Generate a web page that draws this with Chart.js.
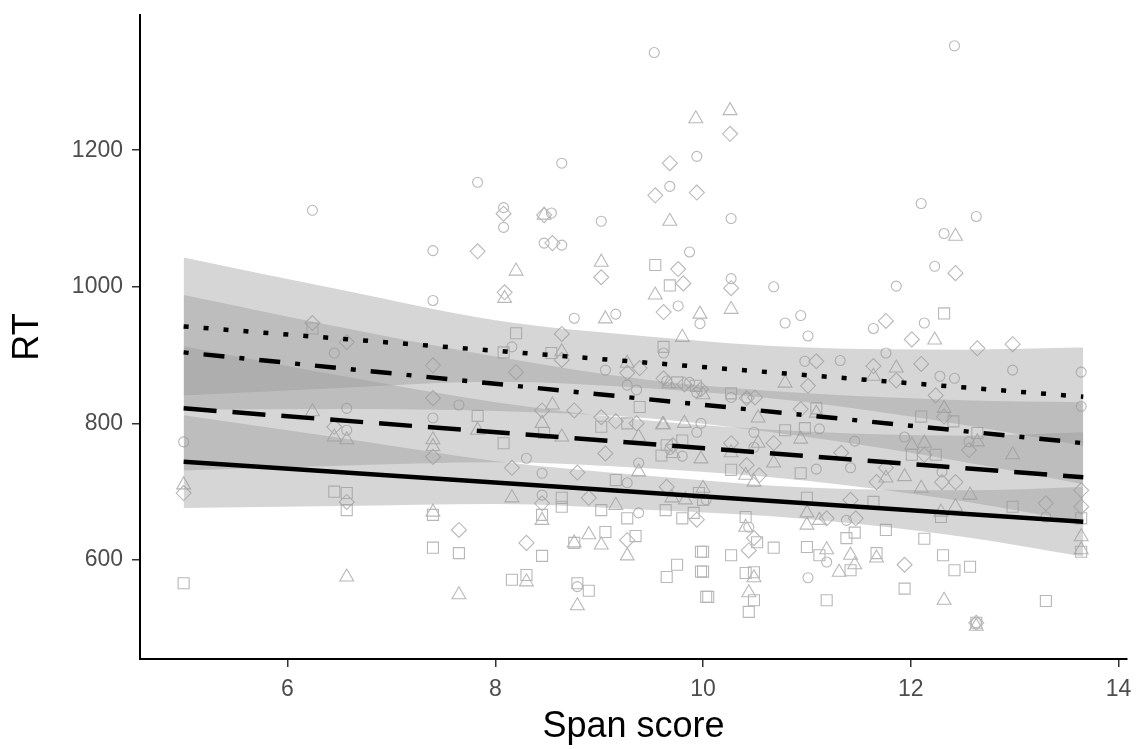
<!DOCTYPE html>
<html>
<head>
<meta charset="utf-8">
<script src="https://cdn.jsdelivr.net/npm/chart.js@4"></script>
<style>
  html, body { margin: 0; padding: 0; background: #fff; }
  #wrap { width: 1136px; height: 749px; }
</style>
</head>
<body>
<div id="wrap"><canvas id="chart" width="1136" height="749"></canvas></div>
<script>
// Axis ticks
const xTicks = [6, 8, 10, 12, 14];
const yTicks = [600, 800, 1000, 1200];

// Regression lines (start / end of span range)
const lineX = [5, 13.66];
const solidLine = [744, 656];
const dashedLine = [822, 721];
const dotdashLine = [904, 771];
const dottedLine = [942, 839];

// Confidence bands, read at these span scores
const bandX = [5, 6.5, 8, 9.5, 11, 12.5, 13.66];
const solidLow = [676, 679, 682, 673, 660, 634, 605];
const solidHigh = [812, 779, 745, 723, 706, 702, 707];
const dashedLow = [731, 738, 743, 734, 716, 686, 655];
const dashedHigh = [913, 870, 831, 804, 788, 782, 787];
const dotdashLow = [820, 821, 818, 807, 780, 744, 711];
const dotdashHigh = [988, 941, 898, 863, 844, 834, 831];
const dottedLow = [841, 852, 861, 851, 831, 798, 767];
const dottedHigh = [1043, 996, 951, 927, 911, 908, 911];

// Raw points [span score, RT]
const circles = [[5.0,773],[6.24,1112],[6.45,903],[6.57,822],[6.57,790],[7.4,1053],[7.4,980],[7.4,808],[7.65,827],[7.83,1153],[8.64,1181],[8.08,1116],[8.08,1087],[8.54,1108],[9.02,1096],[8.47,1064],[8.64,1061],[8.76,954],[9.16,960],[8.16,912],[9.06,878],[9.27,856],[9.36,849],[8.3,749],[8.45,727],[9.38,742],[9.27,713],[8.45,695],[9.38,669],[8.79,561],[9.87,1051],[9.68,1147],[9.94,1191],[9.76,972],[9.97,946],[9.62,903],[9.65,862],[9.87,860],[9.94,845],[9.98,800],[9.94,787],[9.68,762],[9.8,752],[10.03,688],[9.53,1343],[10.27,1100],[10.27,1012],[10.68,1000],[11.86,1001],[10.94,958],[10.79,947],[11.01,928],[11.64,939],[11.76,903],[10.98,891],[11.32,892],[10.27,838],[10.42,837],[11.12,792],[10.49,787],[11.46,774],[10.49,765],[11.42,735],[11.09,733],[11.38,658],[10.44,648],[11.19,597],[11.01,574],[12.1,1122],[12.63,1103],[12.32,1078],[12.23,1030],[12.13,947],[13.64,875],[13.64,825],[12.98,878],[12.28,869],[12.42,866],[12.56,773],[11.94,780],[12.3,729],[13.3,663],[12.63,508],[12.42,1353]];
const triangles = [[5.0,710],[6.24,817],[6.45,780],[6.57,776],[6.57,575],[7.4,776],[7.4,766],[7.4,670],[7.65,549],[7.83,790],[8.47,1105],[8.2,1023],[9.02,1036],[8.09,983],[9.06,953],[8.64,905],[9.27,888],[8.55,827],[8.45,800],[8.64,780],[9.38,780],[9.61,798],[9.82,800],[9.38,729],[8.16,691],[8.45,658],[9.16,680],[8.76,625],[8.9,637],[9.02,622],[9.27,606],[8.3,568],[8.79,533],[9.68,1096],[9.54,988],[9.97,960],[9.8,926],[9.67,858],[10.0,842],[9.62,798],[9.71,756],[9.98,748],[9.7,691],[9.83,688],[10.26,1258],[9.93,1246],[10.27,967],[11.64,869],[10.79,859],[11.86,881],[11.09,815],[10.53,808],[10.94,777],[10.53,771],[10.27,757],[10.68,742],[10.41,724],[10.49,714],[11.76,720],[10.0,705],[11.0,669],[11.12,658],[11.0,651],[10.41,648],[11.19,615],[11.42,607],[11.46,593],[11.31,582],[11.67,603],[10.49,574],[10.44,552],[12.43,1074],[12.23,922],[12.32,822],[12.64,773],[12.01,768],[12.13,771],[12.98,754],[11.94,722],[12.1,705],[12.57,695],[12.29,670],[12.43,678],[13.64,634],[13.64,615],[12.32,541],[12.63,503]];
const diamonds = [[5.0,698],[6.24,947],[6.45,795],[6.57,919],[6.57,685],[7.4,885],[7.4,837],[7.4,751],[7.65,644],[8.08,1107],[8.47,1105],[8.55,1064],[7.83,1052],[9.02,1014],[8.09,992],[8.64,931],[8.64,893],[8.2,875],[9.27,874],[9.39,881],[8.45,819],[8.76,819],[9.02,809],[9.16,803],[9.36,800],[9.06,756],[8.16,735],[8.79,728],[8.45,683],[8.9,691],[8.3,625],[9.27,629],[9.54,1134],[9.68,1181],[9.94,1138],[9.76,1026],[9.81,1005],[9.62,963],[9.62,866],[9.82,857],[9.98,850],[9.71,768],[9.65,707],[9.94,659],[10.26,1224],[10.27,998],[11.76,950],[11.09,891],[11.64,884],[11.01,855],[11.86,863],[10.42,837],[10.5,838],[10.94,821],[10.27,771],[10.68,771],[11.33,757],[10.42,739],[10.54,724],[11.67,714],[11.76,735],[11.42,688],[11.47,661],[11.19,661],[10.49,632],[10.44,614],[12.43,1020],[12.01,923],[12.64,910],[12.98,916],[12.1,887],[12.24,841],[12.32,810],[12.56,761],[12.13,754],[12.3,714],[12.43,714],[13.3,683],[13.64,702],[13.64,678],[11.94,593],[12.63,508]];
const squares = [[5.0,566],[6.24,939],[6.45,700],[6.57,698],[6.57,673],[7.4,666],[7.4,618],[7.65,610],[8.2,932],[8.08,904],[8.54,903],[9.39,824],[7.83,811],[8.08,771],[8.47,786],[9.02,795],[9.27,800],[9.16,717],[8.45,666],[8.64,691],[8.64,678],[9.02,673],[9.27,661],[8.45,606],[8.76,625],[9.06,641],[9.35,635],[8.16,571],[8.3,578],[8.79,566],[8.9,555],[9.65,575],[9.75,593],[9.98,612],[9.98,583],[10.03,546],[9.54,1032],[9.68,1002],[9.62,912],[9.75,860],[9.93,855],[9.8,775],[9.65,768],[9.6,753],[9.96,698],[9.91,669],[9.8,661],[9.64,673],[10.27,844],[11.09,822],[10.79,790],[10.98,793],[10.27,732],[10.94,727],[10.0,688],[11.0,691],[11.64,685],[10.41,663],[10.52,626],[11.76,644],[11.38,632],[11.46,640],[10.0,612],[10.27,607],[10.68,618],[11.0,619],[11.12,607],[11.42,585],[11.67,610],[10.0,583],[10.41,581],[10.49,582],[10.05,546],[10.49,541],[10.44,524],[11.19,541],[12.32,961],[12.41,803],[12.1,810],[12.64,786],[12.01,754],[12.24,754],[12.98,678],[12.29,663],[13.64,661],[13.64,612],[12.13,631],[12.31,607],[12.42,585],[12.57,590],[11.94,558],[13.3,540],[12.63,508]];

function pairs(arr) {
    return arr.map(p => ({ x: p[0], y: p[1] }));
}
function xy(xs, ys) {
    return xs.map((x, i) => ({ x: x, y: ys[i] }));
}

const pointGrey = "#b8b8b8";
const bandFill = "rgba(153,153,153,0.4)";
const clear = "rgba(0,0,0,0)";

function pointSet(arr, style, r) {
    return {
        data: pairs(arr),
        showLine: false,
        pointStyle: style,
        pointRadius: r,
        pointBorderWidth: 1.1,
        borderColor: pointGrey,
        backgroundColor: clear,
        order: 3
    };
}

const datasets = [
    pointSet(circles, "circle", 5),
    pointSet(triangles, "triangle", 8),
    pointSet(diamonds, "rectRot", 7.5),
    pointSet(squares, "rect", 7.8)
];

// each band: lower edge then upper edge filled down to it
const bands = [
    [solidLow, solidHigh],
    [dashedLow, dashedHigh],
    [dotdashLow, dotdashHigh],
    [dottedLow, dottedHigh]
];
bands.forEach(b => {
    const lowIndex = datasets.length;
    datasets.push({
        data: xy(bandX, b[0]),
        borderColor: clear,
        borderWidth: 0,
        pointRadius: 0,
        cubicInterpolationMode: "monotone",
        fill: false,
        order: 2
    });
    datasets.push({
        data: xy(bandX, b[1]),
        borderColor: clear,
        borderWidth: 0,
        pointRadius: 0,
        cubicInterpolationMode: "monotone",
        backgroundColor: bandFill,
        fill: { target: lowIndex },
        order: 2
    });
});

const lines = [
    [solidLine, []],
    [dashedLine, [33, 16]],
    [dotdashLine, [5, 15, 21, 15]],
    [dottedLine, [5, 15]]
];
lines.forEach(l => {
    datasets.push({
        data: xy(lineX, l[0]),
        borderColor: "#000",
        borderWidth: 4.5,
        borderDash: l[1],
        pointRadius: 0,
        fill: false,
        order: 1
    });
});

const tickFont = { family: "'Liberation Sans', Arial, sans-serif", size: 23 };
const titleFont = { family: "'Liberation Sans', Arial, sans-serif", size: 36 };

// drop the extra room Chart.js keeps for edge labels
function noEdgePad(s) {
    s.paddingTop = 0;
    s.paddingBottom = 0;
    s.paddingLeft = 0;
    s.paddingRight = 0;
}

new Chart(document.getElementById("chart").getContext("2d"), {
    type: "line",
    data: { datasets: datasets },
    options: {
        responsive: false,
        animation: false,
        events: [],
        layout: { padding: { left: 0, top: 15, right: 8, bottom: 0 } },
        plugins: {
            legend: { display: false },
            tooltip: { enabled: false }
        },
        scales: {
            x: {
                type: "linear",
                min: 4.58,
                max: 14.08,
                afterBuildTicks: s => { s.ticks = xTicks.map(v => ({ value: v })); },
                afterFit: s => { s.height = 90; noEdgePad(s); },
                border: { display: true, color: "#000", width: 2 },
                grid: { drawOnChartArea: false, drawTicks: true, tickLength: 8, color: "#333", lineWidth: 1.5 },
                ticks: { color: "#4d4d4d", font: tickFont, padding: 9, maxRotation: 0, callback: v => String(v) },
                title: { display: true, text: "Span score", color: "#000", font: titleFont, padding: { top: 0, bottom: 0 } }
            },
            y: {
                type: "linear",
                min: 455,
                max: 1398,
                afterBuildTicks: s => { s.ticks = yTicks.map(v => ({ value: v })); },
                afterFit: s => { s.width = 140; noEdgePad(s); },
                border: { display: true, color: "#000", width: 2 },
                grid: { drawOnChartArea: false, drawTicks: true, tickLength: 8, color: "#333", lineWidth: 1.5 },
                ticks: { color: "#4d4d4d", font: tickFont, padding: 9, callback: v => String(v) },
                title: { display: true, text: "RT", color: "#000", font: titleFont, padding: { top: 6, bottom: 0 } }
            }
        }
    }
});
</script>
</body>
</html>
